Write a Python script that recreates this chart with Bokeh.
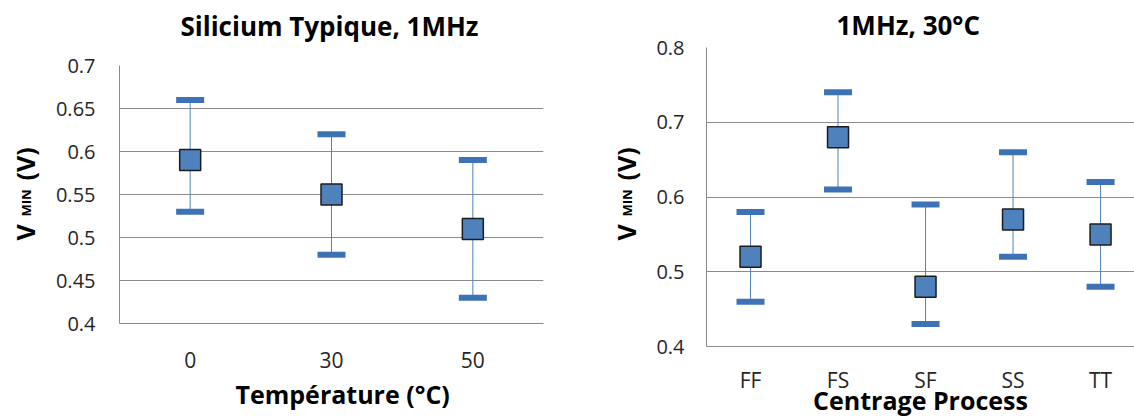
import math
from bokeh.plotting import figure
from bokeh.layouts import row, column
from bokeh.models import (ColumnDataSource, Whisker, TeeHead, FixedTicker,
                          Range1d, FactorRange, Title)
from bokeh.core.properties import value
from bokeh.embed import file_html
from bokeh.resources import INLINE

# ---------------- data ----------------
temps = ["0", "30", "50"]
temp_mean = [0.59, 0.55, 0.51]
temp_max = [0.66, 0.62, 0.59]
temp_min = [0.53, 0.48, 0.43]
left_ytick_labels = ["0.4", "0.45", "0.5", "0.55", "0.6", "0.65", "0.7"]

corners = ["FF", "FS", "SF", "SS", "TT"]
corner_mean = [0.52, 0.68, 0.48, 0.57, 0.55]
corner_max = [0.58, 0.74, 0.59, 0.66, 0.62]
corner_min = [0.46, 0.61, 0.43, 0.52, 0.48]
right_ytick_labels = ["0.4", "0.5", "0.6", "0.7", "0.8"]

title_left = "Silicium Typique, 1MHz"
title_right = "1MHz, 30°C"
xlabel_left = "Température (°C)"
xlabel_right = "Centrage Process"
ylabel_parts = ["V", "MIN", "(V)"]

# ---------------- style ----------------
FONT = "Open Sans"
BLUE = "#4f81bd"
CAP = "#3d72b4"
GRID = "#8a8a8a"
TXT = "#262626"
HT = 419
HEAD = 44
LW = 578          # width of the left block


def blank(width, height):
    q = figure(width=width, height=height, x_range=Range1d(0, width),
               y_range=Range1d(0, height), output_backend="svg",
               toolbar_location=None, frame_align=False, title=None,
               min_border=0, min_border_left=0, min_border_right=0,
               min_border_top=0, min_border_bottom=0)
    q.axis.visible = False
    q.grid.visible = False
    q.outline_line_color = None
    q.border_fill_color = "white"
    q.background_fill_color = "white"
    return q


def style(p, ylabels, standoff_x, standoff_y):
    yt = [float(s) for s in ylabels]
    p.yaxis.ticker = FixedTicker(ticks=yt)
    p.yaxis.major_label_overrides = {v: s for v, s in zip(yt, ylabels)}
    p.ygrid.ticker = FixedTicker(ticks=yt)
    p.xgrid.grid_line_color = None
    p.ygrid.grid_line_color = GRID
    p.ygrid.grid_line_width = 1
    for ax in (p.xaxis, p.yaxis):
        ax.axis_line_color = GRID
        ax.axis_line_width = 1
        ax.major_tick_line_color = None
        ax.minor_tick_line_color = None
        ax.major_tick_out = 0
        ax.major_tick_in = 0
        ax.minor_tick_out = 0
        ax.major_label_text_font = FONT
        ax.major_label_text_color = TXT
    p.yaxis.major_label_text_font_size = "20px"
    p.xaxis.major_label_text_font_size = "21px"
    p.yaxis.major_label_standoff = standoff_y
    p.xaxis.major_label_standoff = standoff_x
    p.outline_line_color = None
    p.background_fill_color = "white"
    p.border_fill_color = "white"


def bold_title(p, text, size, offset, standoff, place):
    t = Title(text=text, align="left", offset=offset, standoff=standoff,
              text_font=FONT, text_font_size=size, text_font_style="bold",
              text_color="black")
    p.add_layout(t, place)


def add_bars(p, xs, mean, lo, hi):
    src = ColumnDataSource(dict(x=xs, mean=mean, lo=lo, hi=hi))
    w = Whisker(base="x", upper="hi", lower="lo", source=src, dimension="height",
                line_color=BLUE, line_width=1,
                upper_head=TeeHead(size=28, line_width=6, line_color=CAP),
                lower_head=TeeHead(size=28, line_width=6, line_color=CAP))
    p.add_layout(w)
    p.scatter("x", "mean", source=src, marker="square", size=21,
              fill_color=BLUE, line_color="#1c1c1c", line_width=1.5)


def ylabel_panel(width, height, xb):
    """Narrow text-only panel carrying the rotated 'V_MIN (V)' axis title."""
    q = blank(width, height)
    q.text(x=[xb, xb + 1, xb], y=[179, 203, 239], text=ylabel_parts,
           angle=math.pi / 2, text_font=value(FONT), text_font_style="bold",
           text_font_size=["25px", "13px", "25px"], text_color="black",
           text_align="left", text_baseline="alphabetic")
    return q


# ---------------- left chart ----------------
head1 = blank(LW, HEAD)
head1.text(x=[329], y=[19], text=[title_left], text_font=value(FONT),
           text_font_style="bold", text_font_size="26px", text_color="black",
           text_align="center", text_baseline="alphabetic")

q1 = ylabel_panel(44, HT - HEAD, 24)
p1 = figure(width=LW - 44, height=HT - HEAD, x_range=FactorRange(factors=temps),
            y_range=Range1d(0.4, 0.7), output_backend="svg", toolbar_location=None,
            frame_align=False, title=None,
            min_border_left=75, min_border_right=35, min_border_top=65 - HEAD,
            min_border_bottom=96)
style(p1, left_ytick_labels, standoff_x=28, standoff_y=24)
bold_title(p1, xlabel_left, "25px", offset=116, standoff=8, place="below")
add_bars(p1, temps, temp_mean, temp_min, temp_max)

# ---------------- right chart ----------------
q2 = ylabel_panel(67, HT, 47)
idx = list(range(len(corners)))
p2 = figure(width=1134 - LW - 67, height=HT, x_range=Range1d(-0.503, 4.388),
            y_range=Range1d(0.4, 0.8), output_backend="svg", toolbar_location=None,
            frame_align=False, title=None,
            min_border_left=61, min_border_right=0, min_border_top=47,
            min_border_bottom=73)
style(p2, right_ytick_labels, standoff_x=19, standoff_y=22)
p2.xaxis.axis_label = xlabel_right
p2.xaxis.axis_label_text_font = FONT
p2.xaxis.axis_label_text_font_size = "25px"
p2.xaxis.axis_label_text_font_style = "bold"
p2.xaxis.axis_label_text_color = "black"
p2.xaxis.axis_label_standoff = -14
bold_title(p2, title_right, "26px", offset=130, standoff=9, place="above")
p2.xaxis.ticker = FixedTicker(ticks=idx)
p2.xaxis.major_label_overrides = {i: c for i, c in zip(idx, corners)}
add_bars(p2, idx, corner_mean, corner_min, corner_max)

layout = row(column(head1, row(q1, p1, spacing=0), spacing=0), q2, p2, spacing=0)
open("out.html", "w").write(file_html(layout, INLINE))
